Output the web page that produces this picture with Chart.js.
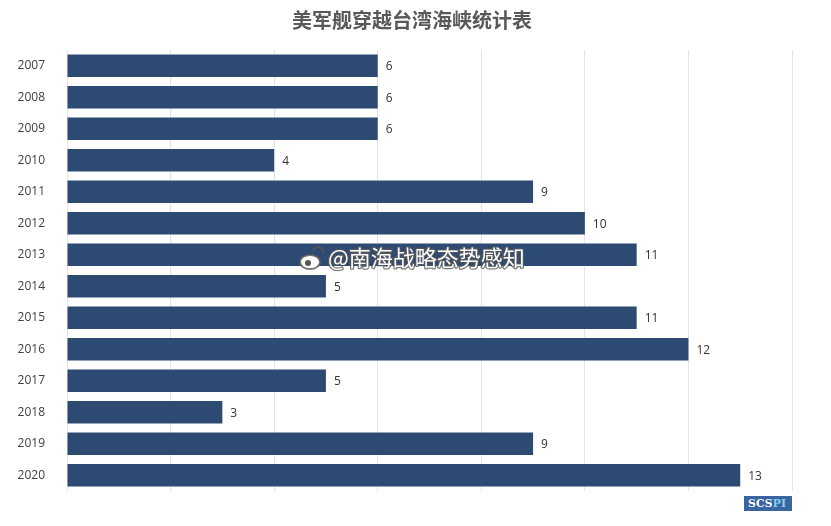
<!DOCTYPE html>
<html>
<head>
<meta charset="utf-8">
<script src="https://cdn.jsdelivr.net/npm/chart.js@4/dist/chart.umd.min.js"></script>
<style>
  html, body { margin: 0; padding: 0; background: #fff; }
  #wrap { width: 831px; height: 526px; }
</style>
</head>
<body>
<div id="wrap"><canvas id="c"></canvas></div>
<script>
// 美军舰穿越台湾海峡统计表 — horizontal bar chart
const YEARS = ['2007', '2008', '2009', '2010', '2011', '2012', '2013', '2014', '2015', '2016', '2017', '2018', '2019', '2020'];
const TRANSITS = [6, 6, 6, 4, 9, 10, 11, 5, 11, 12, 5, 3, 9, 13];
const TITLE = '美军舰穿越台湾海峡统计表';
const WATERMARK = '@南海战略态势感知';

const BAR = '#2d4a73';
const GRID = '#e4e4e4';
const FONT = "'Open Sans', 'Noto Sans CJK SC', sans-serif";

// value labels at the end of each bar
const valueLabels = {
  id: 'valueLabels',
  afterDatasetsDraw(chart) {
    const ctx = chart.ctx;
    const meta = chart.getDatasetMeta(0);
    ctx.save();
    ctx.fillStyle = '#333';
    ctx.font = '12px ' + FONT;
    ctx.textAlign = 'left';
    ctx.textBaseline = 'middle';
    meta.data.forEach((bar, i) => {
      ctx.fillText(TRANSITS[i], bar.x + 8, bar.y + 1);
    });
    ctx.restore();
  }
};

// title, weibo watermark + SCSPI badge
const overlays = {
  id: 'overlays',
  afterDraw(chart) {
    const ctx = chart.ctx;
    ctx.save();
    // title (centred on the whole picture, not the chart box)
    ctx.font = 'bold 20px ' + FONT;
    ctx.fillStyle = '#595959';
    ctx.textAlign = 'center';
    ctx.textBaseline = 'middle';
    ctx.fillText(TITLE, 412, 22);

    // watermark
    ctx.textAlign = 'left';
    ctx.font = '22px "Noto Sans CJK SC", sans-serif';
    ctx.lineJoin = 'round';
    ctx.lineWidth = 2.5;
    ctx.strokeStyle = 'rgba(90,90,90,0.8)';
    ctx.strokeText(WATERMARK, 328, 258);
    ctx.fillStyle = '#fff';
    ctx.fillText(WATERMARK, 328, 258);
    // simple weibo-ish mark
    ctx.lineWidth = 2;
    ctx.beginPath();
    ctx.ellipse(310, 262, 10, 7, 0, 0, Math.PI * 2);
    ctx.fillStyle = '#fff';
    ctx.fill();
    ctx.stroke();
    ctx.beginPath();
    ctx.arc(308, 263, 3, 0, Math.PI * 2);
    ctx.fillStyle = '#555';
    ctx.fill();
    ctx.beginPath();
    ctx.arc(318, 252, 5, Math.PI * 1.1, Math.PI * 0.1);
    ctx.stroke();

    // SCSPI badge
    ctx.fillStyle = '#3a65a0';
    ctx.fillRect(744, 496, 48, 15);
    ctx.font = 'bold 11px "DejaVu Serif", serif';
    ctx.textBaseline = 'middle';
    ctx.fillStyle = '#fff';
    ctx.fillText('SCS', 748, 504);
    const w = ctx.measureText('SCS').width;
    ctx.fillStyle = '#7fd3f0';
    ctx.fillText('PI', 748 + w, 504);
    ctx.restore();
  }
};

new Chart(document.getElementById('c'), {
  type: 'bar',
  data: {
    labels: YEARS,
    datasets: [{
      data: TRANSITS,
      backgroundColor: BAR,
      borderWidth: 0,
      barPercentage: 0.71,
      categoryPercentage: 1.0,
    }],
  },
  options: {
    indexAxis: 'y',
    responsive: true,
    maintainAspectRatio: false,
    animation: false,
    layout: { padding: { left: 0, right: 39, top: 50, bottom: 35 } },
    plugins: {
      legend: { display: false },
      tooltip: { enabled: false },
      title: { display: false },
    },
    scales: {
      x: {
        min: 0,
        max: 14,
        ticks: { stepSize: 2, display: false },
        grid: { color: GRID, lineWidth: 1, drawTicks: false },
        border: { display: false },
      },
      y: {
        afterFit(scale) { scale.width = 67; },
        grid: { display: false },
        border: { display: false },
        ticks: { color: '#404040', font: { size: 12, family: FONT }, padding: 14 },
      },
    },
  },
  plugins: [valueLabels, overlays],
});
</script>
</body>
</html>
